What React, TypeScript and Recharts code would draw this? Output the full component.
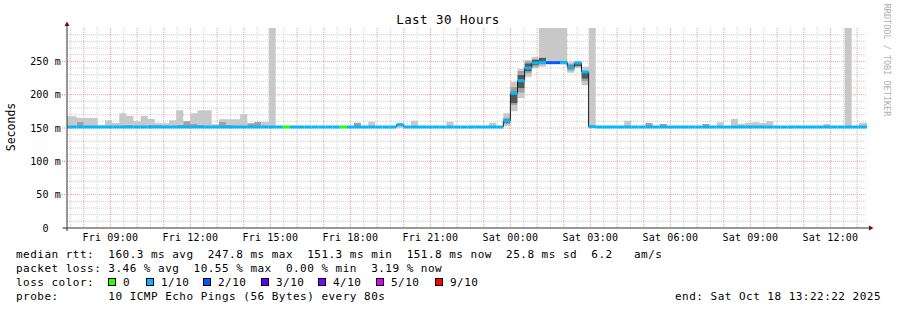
import React from 'react';
import { ComposedChart, Area, XAxis, YAxis, CartesianGrid, ReferenceLine, ReferenceDot } from 'recharts';

const W = 897;
const H = 310;
const FONT = '"DejaVu Sans Mono", monospace';

// time axis: hours since Fri 00:00
const START_H = 7 + 22 / 60 + 22 / 3600; // Fri 07:22:22
const END_H = START_H + 30; // Sat 13:22:22
const FIRST_BIN_H = 7.2; // first (partial) 16-minute bin starts Fri 07:12
const BIN_H = 16 / 60;

const X_TICKS = [9, 12, 15, 18, 21, 24, 27, 30, 33, 36];
const X_TICK_LABELS = ['Fri 09:00', 'Fri 12:00', 'Fri 15:00', 'Fri 18:00', 'Fri 21:00', 'Sat 00:00', 'Sat 03:00', 'Sat 06:00', 'Sat 09:00', 'Sat 12:00'];
const Y_TICKS = [0, 50, 100, 150, 200, 250];
const Y_TICK_LABELS = ['0  ', '50 m', '100 m', '150 m', '200 m', '250 m'];
const Y_MAX = 300;

const X_MAJOR_GRID = [8, 9, 10, 11, 12, 13, 14, 15, 16, 17, 18, 19, 20, 21, 22, 23, 24, 25, 26, 27, 28, 29, 30, 31, 32, 33, 34, 35, 36, 37];
const X_MINOR_GRID = X_MAJOR_GRID.map((h) => h - 0.5);
const Y_MAJOR_GRID = [50, 100, 150, 200, 250];
const Y_MINOR_GRID = [10, 20, 30, 40, 60, 70, 80, 90, 110, 120, 130, 140, 160, 170, 180, 190, 210, 220, 230, 240, 260, 270, 280, 290];

// median rtt per 16-minute bin (ms)
const MEDIAN = [
  151.5, 151.5, 151.5, 151.5, 151.5, 151.5, 151.5, 151.5, 151.5, 151.5,
  151.5, 151.5, 151.5, 151.5, 151.5, 151.5, 151.5, 151.5, 151.5, 151.5,
  151.5, 151.5, 151.5, 151.5, 151.5, 151.5, 151.5, 151.5, 151.5, 151.5,
  151.5, 151.5, 151.5, 151.5, 151.5, 151.5, 151.5, 151.5, 151.5, 151.5,
  151.5, 151.5, 151.5, 151.5, 151.5, 151.5, 151.5, 155, 151.5, 151.5,
  151.5, 151.5, 151.5, 151.5, 151.5, 151.5, 151.5, 151.5, 151.5, 151.5,
  151.5, 151.5, 161, 202, 221, 240, 247.5, 248.5, 248, 248,
  248.5, 241, 247.5, 234, 152, 151.5, 151.5, 151.5, 151.5, 151.5,
  151.5, 151.5, 151.5, 151.5, 151.5, 151.5, 151.5, 151.5, 151.5, 151.5,
  151.5, 151.5, 151.5, 151.5, 151.5, 151.5, 151.5, 151.5, 151.5, 151.5,
  151.5, 151.5, 151.5, 151.5, 151.5, 151.5, 151.5, 151.5, 151.5, 151.5,
  151.5, 151.5, 151.5,
];

// lost pings out of 10 per bin
const LOSS = [
  1, 1, 1, 1, 1, 1, 1, 1, 1, 1,
  1, 1, 1, 1, 1, 1, 1, 1, 1, 1,
  1, 1, 1, 1, 1, 1, 1, 1, 1, 1,
  1, 0, 1, 1, 1, 1, 1, 1, 1, 0,
  1, 1, 1, 1, 1, 1, 1, 1, 1, 1,
  1, 1, 1, 1, 1, 1, 1, 1, 1, 1,
  1, 1, 1, 1, 1, 1, 1, 1, 2, 2,
  1, 1, 1, 1, 1, 1, 1, 1, 1, 1,
  1, 1, 1, 1, 1, 1, 1, 1, 1, 1,
  1, 1, 1, 1, 1, 1, 1, 1, 1, 1,
  1, 1, 1, 1, 1, 1, 1, 1, 1, 1,
  1, 1, 1,
];

// smoke per bin (ms): lowest ping, mid band bottom, core bottom, core top, mid band top, highest ping
const SMOKE_MIN = [
  150, 150, 150, 150, 150, 150, 150, 150, 150, 150,
  150, 150, 150, 150, 150, 150, 150, 150, 150, 150,
  150, 150, 150, 150, 150, 150, 150, 150, 150, 150,
  150, 150, 150, 150, 150, 150, 150, 150, 150, 150,
  150, 150, 150, 150, 150, 150, 150, 150, 150, 150,
  150, 150, 150, 150, 150, 150, 150, 150, 150, 150,
  150, 150, 153, 175, 195, 227, 239.5, 242, 247, 247,
  245, 233, 240, 214, 150, 150, 150, 150, 150, 150,
  150, 150, 150, 150, 150, 150, 150, 150, 150, 150,
  150, 150, 150, 150, 150, 150, 150, 150, 150, 150,
  150, 150, 150, 150, 150, 150, 150, 150, 150, 150,
  150, 150, 150,
];
const SMOKE_LO = [
  150, 150, 150, 150, 150, 150, 150, 150, 150, 150,
  150, 150, 150, 150, 150, 150, 150, 150, 150, 150,
  150, 150, 150, 150, 150, 150, 150, 150, 150, 150,
  150, 150, 150, 150, 150, 150, 150, 150, 150, 150,
  150, 150, 150, 150, 150, 150, 150, 150, 150, 150,
  150, 150, 150, 150, 150, 150, 150, 150, 150, 150,
  150, 150, 156, 184, 203, 232, 242, 245, 247, 247,
  245, 236, 242, 220, 150, 150, 150, 150, 150, 150,
  150, 150, 150, 150, 150, 150, 150, 150, 150, 150,
  150, 150, 150, 150, 150, 150, 150, 150, 150, 150,
  150, 150, 150, 150, 150, 150, 150, 150, 150, 150,
  150, 150, 150,
];
const SMOKE_CORE_LO = [
  150, 150, 150, 150, 150, 150, 150, 150, 150, 150,
  150, 150, 150, 150, 150, 150, 150, 150, 150, 150,
  150, 150, 150, 150, 150, 150, 150, 150, 150, 150,
  150, 150, 150, 150, 150, 150, 150, 150, 150, 150,
  150, 150, 150, 150, 150, 150, 150, 150, 150, 150,
  150, 150, 150, 150, 150, 150, 150, 150, 150, 150,
  150, 150, 158, 187, 210, 235, 244, 250, 247, 247,
  245, 238, 243, 224, 150, 150, 150, 150, 150, 150,
  150, 150, 150, 150, 150, 150, 150, 150, 150, 150,
  150, 150, 150, 150, 150, 150, 150, 150, 150, 150,
  150, 150, 150, 150, 150, 150, 150, 150, 150, 150,
  150, 150, 150,
];
const SMOKE_CORE_HI = [
  150, 150, 150, 150, 150, 150, 150, 150, 150, 150,
  150, 150, 150, 150, 150, 150, 150, 150, 150, 150,
  150, 150, 150, 150, 150, 150, 150, 150, 150, 150,
  150, 150, 150, 150, 150, 150, 150, 150, 150, 150,
  150, 150, 150, 150, 150, 150, 150, 150, 150, 150,
  150, 150, 150, 150, 150, 150, 150, 150, 150, 150,
  150, 150, 164, 205, 230, 247, 252, 255, 247, 247,
  245, 244, 247, 234, 150, 150, 150, 150, 150, 150,
  150, 150, 150, 150, 150, 150, 150, 150, 150, 150,
  150, 150, 150, 150, 150, 150, 150, 150, 150, 150,
  150, 150, 150, 150, 150, 150, 150, 150, 150, 150,
  150, 150, 150,
];
const SMOKE_HI = [
  150, 150, 159, 150, 150, 150, 150, 150, 154, 155,
  150, 150, 155, 155, 150, 150, 155, 160, 156, 155,
  150, 150, 159, 155, 150, 150, 157, 159, 150, 150,
  150, 150, 150, 150, 150, 150, 150, 150, 150, 150,
  150, 158, 150, 150, 150, 150, 150, 150, 150, 150,
  150, 150, 150, 150, 150, 150, 150, 150, 150, 150,
  150, 150, 166, 212, 236, 250, 254, 256, 247, 247,
  245, 246, 248, 236, 150, 150, 150, 150, 150, 150,
  150, 150, 157.5, 150, 156, 150, 150, 150, 150, 150,
  156, 150, 150, 150, 150, 150, 150, 150, 150, 150,
  150, 150, 150, 150, 150, 150, 150, 150, 150, 150,
  150, 150, 150,
];
const SMOKE_MAX = [
  167.5, 167.5, 165, 165, 165, 154, 161.5, 157.5, 172, 168,
  160, 168, 163.5, 157.5, 157, 161.5, 176.5, 160, 172, 176.5,
  176.5, 155.5, 163, 163, 163, 170.5, 157, 159, 159, 300,
  150, 150, 150, 150, 150, 150, 150, 150, 150, 150,
  150, 158, 150, 159.5, 150, 150, 150, 155, 150, 161,
  150, 150, 150, 150, 159.5, 150, 150, 150, 150, 150,
  158, 150, 172, 219.5, 239, 252, 256.5, 300, 300, 300,
  300, 248.5, 250.5, 242, 300, 150, 150, 153, 150, 161,
  150, 150, 157.5, 150, 156, 150, 150, 150, 150, 150,
  156, 150, 158.5, 150, 163.5, 156.5, 158, 158.5, 157.5, 160.5,
  150, 150, 150, 150, 150, 150, 150, 156, 150, 150,
  300, 150, 158,
];

const LOSS_LEGEND = ['0', '1/10', '2/10', '3/10', '4/10', '5/10', '9/10'];
const LOSS_LEGEND_COLORS = ['#26ff00', '#00b8ff', '#0059ff', '#5e00ff', '#7e00ff', '#dd00ff', '#ff0000'];
const LOSS_COLOR_BY_COUNT: Record<number, string> = { 0: '#26ff00', 1: '#00b8ff', 2: '#0059ff', 3: '#5e00ff', 4: '#7e00ff', 5: '#dd00ff', 9: '#ff0000' };

const STATS_RTT = 'median rtt:  160.3 ms avg  247.8 ms max  151.3 ms min  151.8 ms now  25.8 ms sd  6.2   am/s';
const STATS_LOSS = 'packet loss: 3.46 % avg  10.55 % max  0.00 % min  3.19 % now';
const PROBE = 'probe:       10 ICMP Echo Pings (56 Bytes) every 80s';
const END_TEXT = 'end: Sat Oct 18 13:22:22 2025';
const TITLE = 'Last 30 Hours';
const Y_LABEL = 'Seconds';
const WATERMARK = 'RRDTOOL / TOBI OETIKER';

const rows = MEDIAN.map((m, k) => ({
  t: FIRST_BIN_H + k * BIN_H,
  med: m,
  loss: LOSS[k],
  base: SMOKE_MIN[k],
  low: SMOKE_LO[k] - SMOKE_MIN[k],
  mid1: SMOKE_CORE_LO[k] - SMOKE_LO[k],
  core: SMOKE_CORE_HI[k] - SMOKE_CORE_LO[k],
  mid2: SMOKE_HI[k] - SMOKE_CORE_HI[k],
  high: SMOKE_MAX[k] - SMOKE_HI[k],
}));
const data = [...rows, { ...rows[rows.length - 1], t: END_H }];

const AXIS = '#333';
const ARROW = '#8b0000';

const YTick = (props: any) => {
  const { x, y, payload } = props;
  const i = Y_TICKS.indexOf(payload.value);
  return (
    <text x={x - 1} y={y + 3.7} textAnchor="end" fontFamily={FONT} fontSize={10} letterSpacing={0.15} fill="#000" xmlSpace="preserve" style={{ whiteSpace: 'pre' }}>
      {Y_TICK_LABELS[i]}
    </text>
  );
};

const XTick = (props: any) => {
  const { x, y, payload } = props;
  const i = X_TICKS.indexOf(payload.value);
  return (
    <text x={x} y={y + 12.5} textAnchor="middle" fontFamily={FONT} fontSize={10} letterSpacing={0.15} fill="#000">
      {X_TICK_LABELS[i]}
    </text>
  );
};

const TopArrow = (p: any) => {
  const { cx, cy } = p;
  return (
    <g>
      <line x1={cx} y1={cy} x2={cx} y2={cy - 2} stroke={AXIS} />
      <path d={`M${cx - 2.5},${cy - 2} L${cx + 2.5},${cy - 2} L${cx},${cy - 6.5} Z`} fill={ARROW} />
    </g>
  );
};
const RightArrow = (p: any) => {
  const { cx, cy } = p;
  return (
    <g>
      <line x1={cx} y1={cy} x2={cx + 2} y2={cy} stroke={AXIS} />
      <path d={`M${cx + 2},${cy - 2.5} L${cx + 2},${cy + 2.5} L${cx + 6.5},${cy} Z`} fill={ARROW} />
    </g>
  );
};
const OriginCross = (p: any) => {
  const { cx, cy } = p;
  return (
    <g>
      <line x1={cx - 4} y1={cy} x2={cx} y2={cy} stroke={AXIS} />
      <line x1={cx} y1={cy} x2={cx} y2={cy + 3} stroke={AXIS} />
    </g>
  );
};

const LEGEND_SQUARE_X = [108.5, 146.5, 203.5, 261.5, 318.5, 376.5, 435.5];

const smokeArea = (key: string, fill: string) => (
  <Area
    key={key}
    type="stepAfter"
    dataKey={key}
    stackId="smoke"
    stroke="none"
    fill={fill}
    fillOpacity={1}
    isAnimationActive={false}
    activeDot={false}
  />
);

export default function App() {
  const medianSegments = rows.map((r, k) => {
    const x2 = k + 1 < rows.length ? rows[k + 1].t : END_H;
    return (
      <ReferenceLine
        key={`m${k}`}
        segment={[{ x: r.t, y: r.med }, { x: x2, y: r.med }]}
        stroke={LOSS_COLOR_BY_COUNT[r.loss]}
        strokeWidth={3}
        ifOverflow="hidden"
      />
    );
  });
  const medianSteps = rows.slice(1).map((r, i) => {
    const prev = rows[i];
    if (prev.med === r.med) return null;
    return (
      <ReferenceLine
        key={`v${i}`}
        segment={[{ x: r.t, y: prev.med }, { x: r.t, y: r.med }]}
        stroke="#1a1a1a"
        strokeWidth={1}
        ifOverflow="hidden"
      />
    );
  });

  return (
    <div style={{ position: 'absolute', left: 0, top: 0, width: W, height: H, background: '#fff' }}>
      <ComposedChart width={W} height={H} data={data} margin={{ top: 28, right: 30, bottom: 0, left: 0 }}>
        <CartesianGrid stroke="#cfcfcf" strokeDasharray="1 1" horizontalValues={Y_MINOR_GRID} verticalValues={X_MINOR_GRID} />
        <CartesianGrid stroke="#efa0a0" strokeDasharray="1 1" horizontalValues={Y_MAJOR_GRID} verticalValues={X_MAJOR_GRID} />
        <XAxis
          dataKey="t"
          type="number"
          domain={[START_H, END_H]}
          allowDataOverflow
          ticks={X_TICKS}
          interval={0}
          tick={<XTick />}
          tickLine={false}
          tickSize={0}
          tickMargin={0}
          height={82}
          axisLine={{ stroke: AXIS }}
        />
        <YAxis
          type="number"
          domain={[0, Y_MAX]}
          allowDataOverflow
          ticks={Y_TICKS}
          interval={0}
          tick={<YTick />}
          tickLine={{ stroke: '#e08080', strokeDasharray: '1 1' }}
          tickSize={5}
          tickMargin={0}
          width={67}
          axisLine={{ stroke: AXIS }}
        />
        {smokeArea('base', 'none')}
        {smokeArea('low', '#c8c8c8')}
        {smokeArea('mid1', '#a0a0a0')}
        {smokeArea('core', '#555555')}
        {smokeArea('mid2', '#a0a0a0')}
        {smokeArea('high', '#c8c8c8')}
        {medianSteps}
        {medianSegments}
        <ReferenceDot x={START_H} y={Y_MAX} r={0} ifOverflow="visible" shape={TopArrow} />
        <ReferenceDot x={END_H} y={0} r={0} ifOverflow="visible" shape={RightArrow} />
        <ReferenceDot x={START_H} y={0} r={0} ifOverflow="visible" shape={OriginCross} />
      </ComposedChart>
      <svg width={W} height={H} style={{ position: 'absolute', left: 0, top: 0, pointerEvents: 'none' }}>
        <text x={448} y={24} textAnchor="middle" fontFamily={FONT} fontSize={12.5} letterSpacing={0.45} fill="#000">{TITLE}</text>
        <text x={15} y={127} textAnchor="middle" transform="rotate(-90 15 127)" fontFamily={FONT} fontSize={11.5} fill="#000">{Y_LABEL}</text>
        <text x={884} y={60} textAnchor="middle" transform="rotate(90 884 60)" fontFamily={FONT} fontSize={8.5} fill="#b0b0b0">{WATERMARK}</text>
        <g fontFamily={FONT} fontSize={11} letterSpacing={0.48} fill="#000" style={{ whiteSpace: 'pre' }}>
          <text x={16} y={258.3} xmlSpace="preserve">{STATS_RTT}</text>
          <text x={16} y={272.3} xmlSpace="preserve">{STATS_LOSS}</text>
          <text x={16} y={286.3} xmlSpace="preserve">loss color:</text>
          {LOSS_LEGEND.map((lab, i) => (
            <g key={lab}>
              <rect x={LEGEND_SQUARE_X[i]} y={278.5} width={7} height={7} fill={LOSS_LEGEND_COLORS[i]} stroke="#000" strokeWidth={1} />
              <text x={LEGEND_SQUARE_X[i] + 14.5} y={286.3}>{lab}</text>
            </g>
          ))}
          <text x={16} y={300.3} xmlSpace="preserve">{PROBE}</text>
          <text x={881} y={300.3} textAnchor="end" xmlSpace="preserve">{END_TEXT}</text>
        </g>
      </svg>
    </div>
  );
}
